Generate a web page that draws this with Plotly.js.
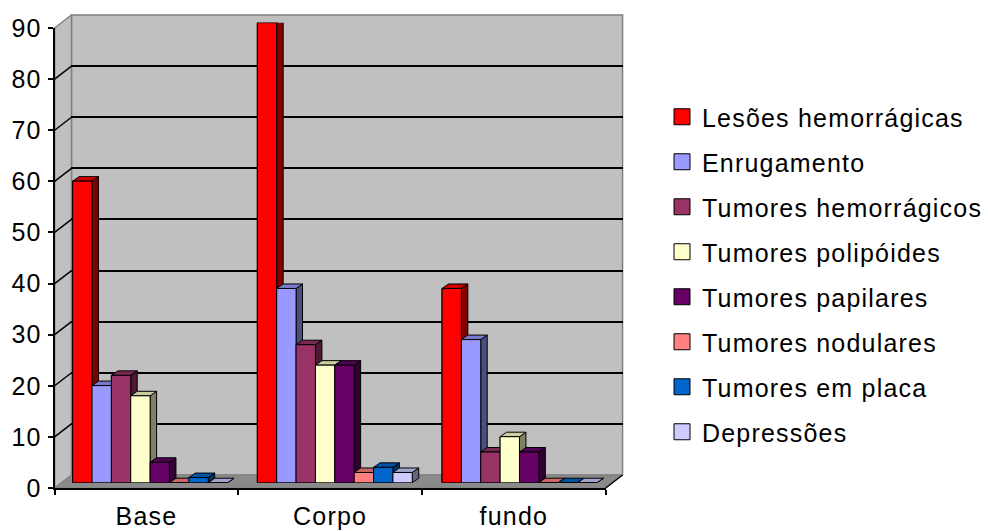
<!DOCTYPE html>
<html>
<head>
<meta charset="utf-8">
<script src="https://cdn.plot.ly/plotly-3.0.1.min.js"></script>
<style>
html,body{margin:0;padding:0;background:#fff;}
#chart{width:988px;height:531px;}
svg text{letter-spacing:1.2px;}
</style>
</head>
<body>
<div id="chart"></div>
<script>
// ---- data ----
const categories = ['Base', 'Corpo', 'fundo'];
const seriesNames = ['Lesões hemorrágicas', 'Enrugamento', 'Tumores hemorrágicos', 'Tumores polipóides',
  'Tumores papilares', 'Tumores nodulares', 'Tumores em placa', 'Depressões'];
const lesoesHemorragicas = [59, 90, 38];
const enrugamento = [19, 38, 28];
const tumoresHemorragicos = [21, 27, 6];
const tumoresPolipoides = [17, 23, 9];
const tumoresPapilares = [4, 23, 6];
const tumoresNodulares = [0, 2, 0];
const tumoresEmPlaca = [1, 3, 0];
const depressoes = [0, 2, 0];
const yTicks = [0, 10, 20, 30, 40, 50, 60, 70, 80, 90];

const seriesValues = [lesoesHemorragicas, enrugamento, tumoresHemorragicos, tumoresPolipoides,
  tumoresPapilares, tumoresNodulares, tumoresEmPlaca, depressoes];

// ---- styles ----
const colors = ['#FF0000', '#9999FF', '#993366', '#FFFFCC', '#660066', '#FF8080', '#0066CC', '#CCCCFF'];
function shade(hex, f) {
  const n = parseInt(hex.slice(1), 16);
  const r = Math.round(((n >> 16) & 255) * f), g = Math.round(((n >> 8) & 255) * f), b = Math.round((n & 255) * f);
  return 'rgb(' + r + ',' + g + ',' + b + ')';
}
const W = 988, H = 531;
const FONT = 'Liberation Sans, Arial, sans-serif';
const FS = 25;
const px = v => v / W;
const py = v => 1 - v / H;

// geometry (pixels)
const frontL = 55, frontR = 610, front0 = 488, scale = 460 / 90;
const depthX = 17, depthY = 13;
const barL = 58.2, barR = 616.2, bar0 = 482.7;
const bargap = 0.161;
const nS = seriesNames.length;
const groupW = 1 - bargap, bw = groupW / nS;
const dX = 6.5 / ((barR - barL) / 3);   // depth in category units
const dY = 4.5 / scale;                 // depth in value units

const traces = [];
// legend entries (on back-wall subplot)
seriesNames.forEach((name, i) => {
  traces.push({
    type: 'scatter', mode: 'markers', x: [null], y: [null], name: name,
    legendgroup: 'g' + i, showlegend: true, hoverinfo: 'skip',
    marker: {symbol: 'square', size: 16, color: colors[i], line: {color: '#000', width: 1}},
    xaxis: 'x', yaxis: 'y'
  });
});
// real bars
seriesNames.forEach((name, i) => {
  traces.push({
    type: 'bar', x: categories.map((c, k) => k), y: seriesValues[i], name: name,
    showlegend: false, legendgroup: 'g' + i,
    marker: {color: colors[i], line: {color: '#000', width: 1}},
    xaxis: 'x2', yaxis: 'y2',
    hovertemplate: name + ': %{y}<extra></extra>'
  });
});
// 3D faces drawn in depth order
categories.forEach((c, k) => {
  seriesValues.forEach((vals, i) => {
    const v = vals[k];
    const xl = k - groupW / 2 + i * bw, xr = xl + bw;
    const common = {type: 'scatter', mode: 'lines', fill: 'toself', showlegend: false, hoverinfo: 'skip',
      legendgroup: 'g' + i, line: {color: '#000', width: 1}, xaxis: 'x2', yaxis: 'y2'};
    traces.push(Object.assign({}, common, {
      x: [xr, xr + dX, xr + dX, xr, xr], y: [0, dY, v + dY, v, 0], fillcolor: shade(colors[i], 0.5)}));
    traces.push(Object.assign({}, common, {
      x: [xl, xl + dX, xr + dX, xr, xl], y: [v, v + dY, v + dY, v, v], fillcolor: shade(colors[i], 0.8)}));
    traces.push(Object.assign({}, common, {
      x: [xl, xl, xr, xr, xl], y: [0, v, v, 0, 0], fillcolor: colors[i]}));
  });
});

// decorative walls
const shapes = [];
shapes.push({type: 'rect', xref: 'paper', yref: 'paper', layer: 'below',
  x0: px(frontL + depthX), x1: px(frontR + depthX), y0: py(front0 - depthY), y1: py(front0 - depthY - 460),
  fillcolor: '#C0C0C0', line: {color: '#808080', width: 1.5}});
function path(pts) {
  return 'M' + pts.map(p => px(p[0]) + ',' + py(p[1])).join(' L') + ' Z';
}
shapes.push({type: 'path', xref: 'paper', yref: 'paper', layer: 'below',
  path: path([[frontL, front0 - 460], [frontL + depthX, front0 - 460 - depthY], [frontL + depthX, front0 - depthY], [frontL, front0]]),
  fillcolor: '#C0C0C0', line: {color: '#808080', width: 1.5}});
shapes.push({type: 'path', xref: 'paper', yref: 'paper', layer: 'below',
  path: path([[frontL, front0], [frontL + depthX, front0 - depthY], [frontR + depthX, front0 - depthY], [frontR, front0]]),
  fillcolor: '#8A8A8A', line: {color: '#808080', width: 1}});
shapes.push({type: 'line', xref: 'paper', yref: 'paper', layer: 'above',
  x0: px(frontR), y0: py(front0), x1: px(frontR + depthX), y1: py(front0 - depthY), line: {color: '#000', width: 1.5}});
yTicks.filter(t => t > 0 && t < 90).forEach(t => {
  shapes.push({type: 'line', xref: 'paper', yref: 'paper', layer: 'below',
    x0: px(frontL), y0: py(front0 - t * scale), x1: px(frontL + depthX), y1: py(front0 - depthY - t * scale),
    line: {color: '#000', width: 1.5}});
});

const layout = {
  width: W, height: H, autosize: false,
  margin: {l: 0, r: 0, t: 0, b: 0},
  paper_bgcolor: '#fff', plot_bgcolor: 'rgba(0,0,0,0)',
  font: {family: FONT, size: FS, color: '#000'},
  barmode: 'group', bargap: bargap, bargroupgap: 0,
  showlegend: true,
  legend: {x: px(667), y: py(94), xanchor: 'left', yanchor: 'top', tracegroupgap: 9.5,
    font: {family: FONT, size: FS, color: '#000'}, bgcolor: 'rgba(0,0,0,0)'},
  // back wall gridlines
  xaxis: {domain: [px(frontL + depthX), px(frontR + depthX)], range: [0, 1], anchor: 'y',
    showgrid: false, zeroline: false, showticklabels: false, ticks: '', showline: false, fixedrange: true},
  yaxis: {domain: [py(front0 - depthY), py(front0 - depthY - 460)], range: [0, 90], anchor: 'x',
    tickmode: 'array', tickvals: yTicks.filter(t => t > 0 && t < 90), showgrid: true, gridcolor: '#000', gridwidth: 1.5,
    zeroline: false, showticklabels: false, ticks: '', showline: false, fixedrange: true},
  // bars
  xaxis2: {domain: [px(barL), px(barR)], range: [-0.5, 2.5], anchor: 'y2', visible: false, fixedrange: true},
  yaxis2: {domain: [py(bar0), py(bar0 - 460)], range: [0, 90], anchor: 'x2', visible: false, fixedrange: true},
  // front axes
  xaxis3: {domain: [px(frontL), px(frontR)], range: [-0.5, 2.5], anchor: 'y3',
    tickmode: 'array', tickvals: categories.map((c, k) => k), ticktext: categories, ticks: '',
    ticklabelstandoff: 5,
    minor: {tickmode: 'array', tickvals: [-0.5, 0.5, 1.5, 2.5], ticks: 'outside', ticklen: 5, tickwidth: 1.5, tickcolor: '#000', showgrid: false},
    showgrid: false, zeroline: false, showline: true, linecolor: '#000', linewidth: 2, fixedrange: true,
    tickfont: {family: FONT, size: FS, color: '#000'}},
  yaxis3: {domain: [py(front0), py(front0 - 460)], range: [0, 90], anchor: 'x3',
    tickmode: 'array', tickvals: yTicks, ticks: 'outside', ticklen: 5, tickwidth: 1.5, tickcolor: '#000',
    ticklabelstandoff: 1,
    showgrid: false, zeroline: false, showline: true, linecolor: '#000', linewidth: 2, fixedrange: true,
    tickfont: {family: FONT, size: FS, color: '#000'}},
  shapes: shapes
};
// an invisible trace to instantiate the front-axis subplot
traces.push({type: 'scatter', mode: 'markers', x: [null], y: [null], xaxis: 'x3', yaxis: 'y3', showlegend: false, hoverinfo: 'skip'});

Plotly.newPlot('chart', traces, layout, {displayModeBar: false});
</script>
</body>
</html>
